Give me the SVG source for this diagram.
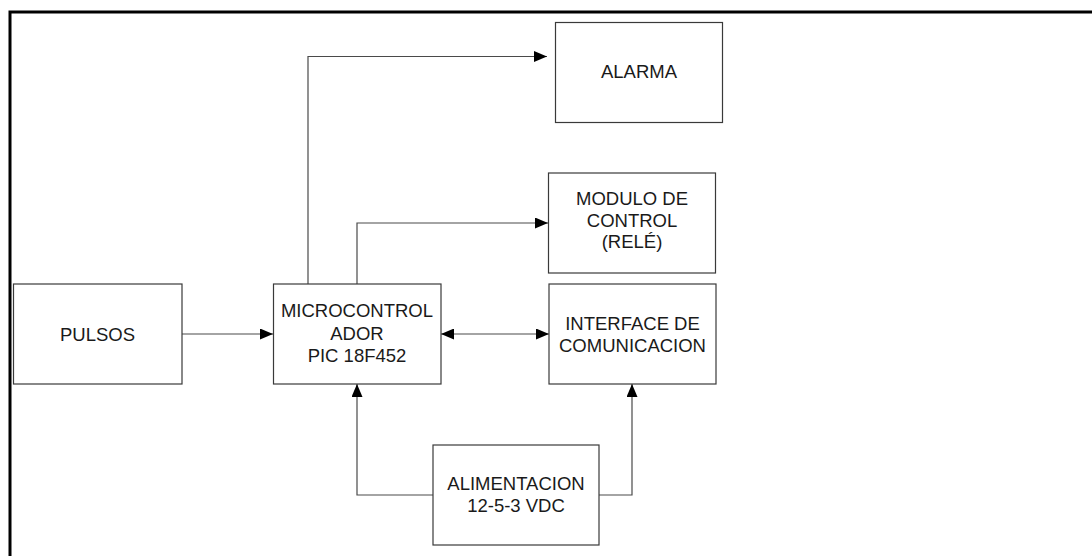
<svg xmlns="http://www.w3.org/2000/svg" width="1092" height="556" viewBox="0 0 1092 556">
  <style>
    .box { fill: #ffffff; stroke: #3a3a3a; stroke-width: 1.2; }
    .wire { fill: none; stroke: #4a4a4a; stroke-width: 1.2; }
    .lbl { font-family: "Liberation Sans", Arial, sans-serif; font-size: 18.5px; fill: #1a1a1a; text-anchor: middle; }
    .frame { fill: none; stroke: #000000; stroke-width: 3; }
  </style>
  <defs>
    <marker id="arrow" viewBox="0 0 13 11" refX="13" refY="5.5" markerWidth="13" markerHeight="11" markerUnits="userSpaceOnUse" orient="auto-start-reverse">
      <path d="M0,0 L13,5.5 L0,11 Z" fill="#000000"/>
    </marker>
  </defs>

  <rect width="1092" height="556" fill="#ffffff"/>

  <!-- page border (top and left edges) -->
  <path class="frame" d="M10,556 V12 H1092"/>

  <!-- connectors -->
  <g id="connectors">
    <path class="wire" d="M308,284 V56.5 H547" marker-end="url(#arrow)"/>
    <path class="wire" d="M357,284 V223 H548" marker-end="url(#arrow)"/>
    <path class="wire" d="M182,334 H273" marker-end="url(#arrow)"/>
    <path class="wire" d="M441,334 H549" marker-start="url(#arrow)" marker-end="url(#arrow)"/>
    <path class="wire" d="M433,495 H357 V384" marker-end="url(#arrow)"/>
    <path class="wire" d="M599,495 H632 V384" marker-end="url(#arrow)"/>
  </g>

  <g id="alarma">
    <rect class="box" x="555.5" y="22.5" width="167" height="100"/>
    <text class="lbl" x="639" y="78">ALARMA</text>
  </g>

  <g id="modulo-control">
    <rect class="box" x="548.5" y="173" width="167" height="100"/>
    <text class="lbl" x="632" y="205">MODULO DE</text>
    <text class="lbl" x="632" y="226.5">CONTROL</text>
    <text class="lbl" x="632" y="248">(RELÉ)</text>
  </g>

  <g id="pulsos">
    <rect class="box" x="13.5" y="284" width="168.5" height="100"/>
    <text class="lbl" x="97.5" y="340.5">PULSOS</text>
  </g>

  <g id="microcontrolador">
    <rect class="box" x="273.5" y="284" width="167.5" height="100"/>
    <text class="lbl" x="357" y="317">MICROCONTROL</text>
    <text class="lbl" x="357" y="339.5">ADOR</text>
    <text class="lbl" x="357" y="362">PIC 18F452</text>
  </g>

  <g id="interface">
    <rect class="box" x="549" y="284" width="167" height="100"/>
    <text class="lbl" x="632.5" y="330">INTERFACE DE</text>
    <text class="lbl" x="632.5" y="351.5">COMUNICACION</text>
  </g>

  <g id="alimentacion">
    <rect class="box" x="433" y="445" width="166" height="100"/>
    <text class="lbl" x="516" y="490">ALIMENTACION</text>
    <text class="lbl" x="516" y="512">12-5-3 VDC</text>
  </g>
</svg>
